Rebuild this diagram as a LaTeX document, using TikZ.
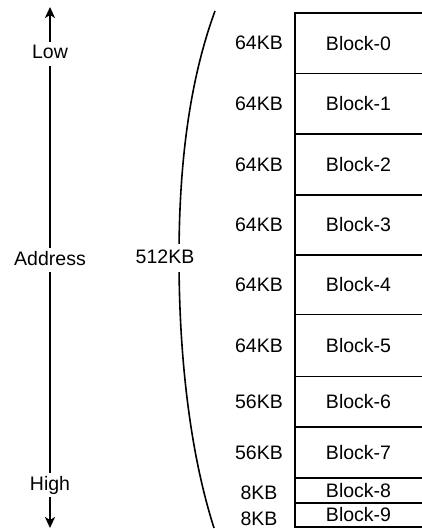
\documentclass[tikz,border=0pt]{standalone}
\usepackage{fontspec}
\setmainfont{Liberation Sans}
\usetikzlibrary{arrows.meta}
\tikzset{block/.style={draw,line width=1.6pt,minimum width=134pt,inner sep=0pt},
    size/.style={inner sep=0pt},
    axis label/.style={fill=white,inner sep=3pt,text height=14pt,text depth=4pt},
    axis/.style={line width=1.9pt},
    brace/.style={line width=1.6pt}}

\begin{document}
\begin{tikzpicture}[x=1pt,y=-1pt,font=\fontsize{19.5}{23}\selectfont]
    \useasboundingbox (0,0) rectangle (421,529);

    % blocks and their sizes
    \foreach \i/\cy/\h/\sz/\sy in {0/43.25/60.5/64/43.25, 1/103.75/60.5/64/103.75, 2/164.5/61/64/164.5, 3/225/60/64/225, 4/284.75/59.5/64/284.75, 5/345.5/62/64/345.5, 6/401.75/50.5/56/401.75, 7/452.5/51/56/452.5, 8/490.5/25/8/492.5, 9/515/24/8/518.5}
    {
        \node[block,minimum height=\h pt] (blk\i) at (362,\cy) {};
        \node (lbl\i) at (358.5,\cy) {Block-\i};
        \node[size] (sz\i) at (259,\sy) {\sz KB};
    }

    % address axis
    \coordinate (atop) at (50,7);
    \coordinate (abot) at (50,528);
    \node[axis label] (low) at (50,54) {Low};
    \node[axis label] (addr) at (50,260) {Address};
    \node[axis label] (high) at (50,485) {High};
    \draw[axis,-{Stealth[length=11pt,width=10pt,inset=3pt]}] (low) -- (atop);
    \draw[axis] (low) -- (addr) -- (high);
    \draw[axis,-{Stealth[length=11pt,width=10pt,inset=3pt]}] (high) -- (abot);

    % brace over all blocks
    \coordinate (btop) at (215,11);
    \coordinate (bmid) at (179,258);
    \coordinate (bbot) at (214,528);
    \draw[brace] (btop) .. controls (186,90) and (179,180) .. (bmid)
        .. controls (179,336) and (186,440) .. (bbot);
    \node[axis label,inner sep=5pt] (total) at (165,258) {512KB};
\end{tikzpicture}
\end{document}
